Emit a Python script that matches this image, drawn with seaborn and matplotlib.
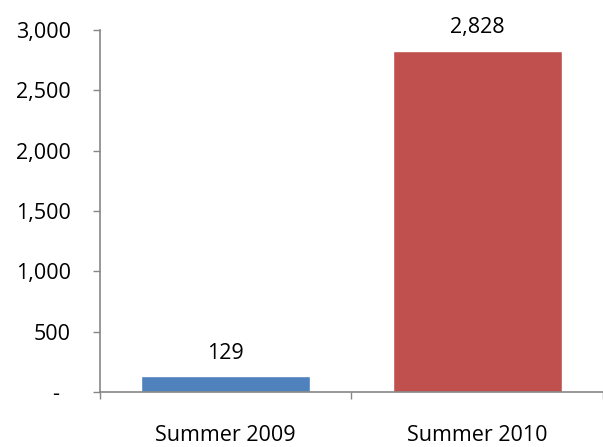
import matplotlib
matplotlib.use("Agg")
import matplotlib.pyplot as plt
import seaborn as sns
import pandas as pd
from matplotlib.ticker import FixedLocator

# data
seasons = ["Summer 2009", "Summer 2010"]
counts = [129, 2828]
bar_colors = ["#4F81BD", "#C0504D"]
y_ticks = [0, 500, 1000, 1500, 2000, 2500, 3000]
y_labels = ["-  ", "500", "1,000", "1,500", "2,000", "2,500", "3,000"]

df = pd.DataFrame({"Season": seasons, "Count": counts})

sns.set_style("white")
plt.rcParams["font.family"] = ["Open Sans", "DejaVu Sans"]

fig = plt.figure(figsize=(6.03, 4.47), dpi=100)
ax = fig.add_axes([0.1658, 0.123, 0.8342, 0.81])

sns.barplot(data=df, x="Season", y="Count", hue="Season", palette=bar_colors,
            width=0.67, legend=False, ax=ax, saturation=1)

for cont in ax.containers:
    ax.bar_label(cont, fmt="{:,.0f}", padding=9, fontsize=15.5, color="black")

ax.set_xlim(-0.5, 1.5)
ax.set_ylim(0, 3000)
ax.set_yticks(y_ticks)
ax.set_yticklabels(y_labels, fontsize=15.5, color="black")
ax.set_xlabel("")
ax.set_ylabel("")

# category boundaries get the tick marks, labels sit at centres
ax.xaxis.set_minor_locator(FixedLocator([-0.5, 0.5, 1.5]))
ax.tick_params(axis="x", which="major", bottom=True, length=0, pad=24,
               labelsize=15.5, labelcolor="black")
ax.tick_params(axis="x", which="minor", bottom=True, length=5, width=1,
               color="#868686", direction="out")
ax.tick_params(axis="y", left=True, length=5, width=1, color="#868686",
               direction="out", pad=16)

for side in ["top", "right"]:
    ax.spines[side].set_visible(False)
for side in ["left", "bottom"]:
    ax.spines[side].set_color("#868686")
    ax.spines[side].set_linewidth(1.2)

fig.savefig("out.png", dpi=100)
